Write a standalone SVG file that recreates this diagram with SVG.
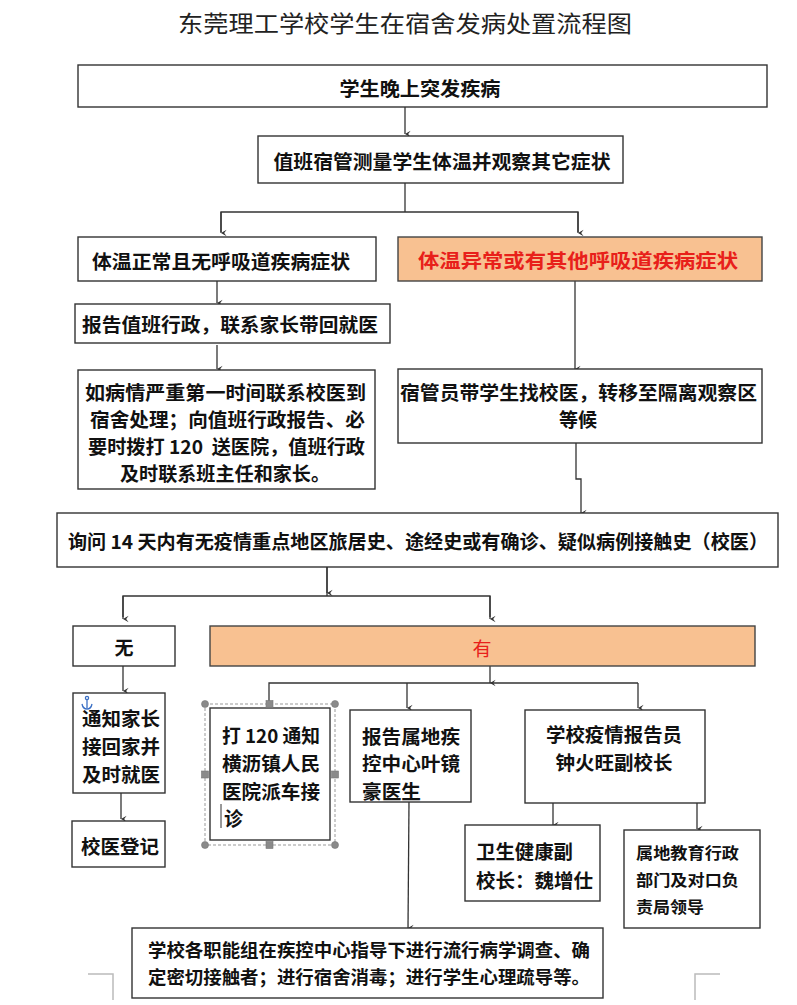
<svg xmlns="http://www.w3.org/2000/svg" width="797" height="1005" viewBox="0 0 797 1005">
<defs>
<marker id="ah" viewBox="0 0 10 10" refX="5" refY="9" markerWidth="8" markerHeight="8" markerUnits="userSpaceOnUse" orient="auto-start-reverse">
<path d="M1,2 L5,9 L9,2 L5,5 Z" fill="#333"/>
</marker>
<style>
.box{fill:#fff;stroke:#333;stroke-width:1.4}
.org{fill:#F8C191;stroke:#444;stroke-width:1.4}
.t{font-family:"Noto Sans CJK SC","Noto Sans",sans-serif;font-size:19px;font-weight:bold;fill:#111;dominant-baseline:central}
.c{text-anchor:middle}
.red{fill:#E8201A}
.ln{fill:none;stroke:#333;stroke-width:1.3}
.ar{fill:none;stroke:#333;stroke-width:1.3;marker-end:url(#ah)}
.mark{fill:none;stroke:#bbb;stroke-width:1.5}
.hd{fill:#8a8a8a;stroke:#777;stroke-width:0.6}
</style>
</defs>
<rect width="797" height="1005" fill="#fff"/>
<text x="405" y="22" text-anchor="middle" dominant-baseline="central" font-family="Noto Sans CJK SC,sans-serif" font-size="23" fill="#222" textLength="454" lengthAdjust="spacingAndGlyphs">东莞理工学校学生在宿舍发病处置流程图</text>

<g id="connectors">
<line class="ar" x1="405" y1="107" x2="405" y2="134"/>
<line class="ln" x1="405" y1="183" x2="405" y2="212"/>
<polyline class="ln" points="221,232 221,212 578,212 578,232"/>
<line class="ar" x1="221" y1="212" x2="221" y2="233"/>
<line class="ar" x1="578" y1="212" x2="578" y2="233"/>
<line class="ar" x1="217" y1="281" x2="217" y2="303"/>
<line class="ar" x1="217" y1="345" x2="217" y2="369"/>
<line class="ar" x1="575" y1="281" x2="575" y2="369"/>
<polyline class="ar" points="576,443 576,479 581,479 581,513"/>
<line class="ln" x1="327" y1="567" x2="327" y2="596"/>
<polyline class="ln" points="123,617 123,596 490,596 490,617"/>
<line class="ar" x1="327" y1="567" x2="327" y2="593"/>
<line class="ar" x1="123" y1="596" x2="123" y2="619"/>
<line class="ar" x1="490" y1="596" x2="490" y2="619"/>
<line class="ar" x1="123" y1="666" x2="123" y2="691"/>
<line class="ar" x1="121" y1="793" x2="121" y2="819"/>
<line class="ar" x1="490" y1="666" x2="490" y2="683"/>
<polyline class="ln" points="269,704 269,683 638,683"/>
<line class="ar" x1="407" y1="683" x2="407" y2="708"/>
<line class="ar" x1="638" y1="683" x2="638" y2="708"/>
<line class="ar" x1="409" y1="802" x2="408" y2="928"/>
<line class="ar" x1="553" y1="803" x2="553" y2="825"/>
<line class="ar" x1="697" y1="803" x2="697" y2="829"/>
</g>

<g id="n1"><rect class="box" x="78" y="65" width="689" height="42"/>
<text class="t c" x="420" y="87" textLength="161" lengthAdjust="spacingAndGlyphs">学生晚上突发疾病</text></g>

<g id="n2"><rect class="box" x="258" y="136" width="365" height="47"/>
<text class="t c" x="442" y="160" textLength="337" lengthAdjust="spacingAndGlyphs">值班宿管测量学生体温并观察其它症状</text></g>

<g id="n3"><rect class="box" x="78" y="237" width="298" height="44"/>
<text class="t" x="92" y="260" textLength="258" lengthAdjust="spacingAndGlyphs">体温正常且无呼吸道疾病症状</text></g>

<g id="n4"><rect class="org" x="398" y="237" width="364" height="44"/>
<text class="t c red" x="578" y="259" textLength="320" lengthAdjust="spacingAndGlyphs">体温异常或有其他呼吸道疾病症状</text></g>

<g id="n5"><rect class="box" x="75" y="304" width="315" height="39"/>
<text class="t" x="82" y="323" textLength="296" lengthAdjust="spacingAndGlyphs">报告值班行政，联系家长带回就医</text></g>

<g id="n6"><rect class="box" x="78" y="370" width="297" height="119"/>
<text class="t" x="85" y="391" textLength="281" lengthAdjust="spacingAndGlyphs">如病情严重第一时间联系校医到</text>
<text class="t" x="90" y="418" textLength="275" lengthAdjust="spacingAndGlyphs">宿舍处理；向值班行政报告、必</text>
<text class="t" x="88" y="445" textLength="277" lengthAdjust="spacingAndGlyphs">要时拨打 120&#160; 送医院，值班行政</text>
<text class="t" x="120" y="472" textLength="210" lengthAdjust="spacingAndGlyphs">及时联系班主任和家长。</text></g>

<g id="n7"><rect class="box" x="398" y="369" width="364" height="74"/>
<text class="t" x="400" y="391" textLength="357" lengthAdjust="spacingAndGlyphs">宿管员带学生找校医，转移至隔离观察区</text>
<text class="t c" x="578" y="418">等候</text></g>

<g id="n8"><rect class="box" x="57" y="513" width="721" height="54"/>
<text class="t" x="68" y="540" textLength="700" lengthAdjust="spacingAndGlyphs">询问 14 天内有无疫情重点地区旅居史、途经史或有确诊、疑似病例接触史（校医）</text></g>

<g id="n9"><rect class="box" x="73" y="626" width="102" height="40"/>
<text class="t c" x="124" y="646">无</text></g>

<g id="n10"><rect class="org" x="210" y="626" width="545" height="40"/>
<text class="t c red" x="482" y="647" style="font-weight:normal">有</text></g>

<g id="n11"><rect class="box" x="73" y="693" width="92" height="100"/>
<text class="t" x="82" y="717" textLength="78" lengthAdjust="spacingAndGlyphs">通知家长</text>
<text class="t" x="82" y="745" textLength="78" lengthAdjust="spacingAndGlyphs">接回家并</text>
<text class="t" x="82" y="773" textLength="78" lengthAdjust="spacingAndGlyphs">及时就医</text>
<g fill="none" stroke="#3a6fc4" stroke-width="1.3"><circle cx="87" cy="698" r="1.6"/><line x1="87" y1="700" x2="87" y2="708"/><path d="M82,704 Q83,709 87,709 Q91,709 92,704"/></g></g>

<g id="n12"><rect class="box" x="72" y="821" width="93" height="46"/>
<text class="t" x="81" y="845" textLength="78" lengthAdjust="spacingAndGlyphs">校医登记</text></g>

<g id="n13"><rect class="box" x="210" y="708" width="120" height="132"/>
<text class="t" x="222" y="734" textLength="98" lengthAdjust="spacingAndGlyphs">打 120 通知</text>
<text class="t" x="222" y="762" textLength="98" lengthAdjust="spacingAndGlyphs">横沥镇人民</text>
<text class="t" x="222" y="790" textLength="98" lengthAdjust="spacingAndGlyphs">医院派车接</text>
<text class="t" x="224" y="817">诊</text>
<line x1="221" y1="804" x2="221" y2="828" stroke="#333" stroke-width="1"/>
<rect x="205" y="704" width="130" height="141" fill="none" stroke="#999" stroke-width="1" stroke-dasharray="3,2"/>
<circle class="hd" cx="205" cy="704" r="3.5"/><circle class="hd" cx="335" cy="704" r="3.5"/>
<circle class="hd" cx="205" cy="845" r="3.5"/><circle class="hd" cx="335" cy="845" r="3.5"/>
<rect class="hd" x="266" y="700.5" width="7" height="7"/><rect class="hd" x="266" y="841.5" width="7" height="7"/>
<rect class="hd" x="201.5" y="771" width="7" height="7"/><rect class="hd" x="331.5" y="771" width="7" height="7"/></g>

<g id="n14"><rect class="box" x="350" y="710" width="121" height="92"/>
<text class="t" x="362" y="735" textLength="98" lengthAdjust="spacingAndGlyphs">报告属地疾</text>
<text class="t" x="362" y="762" textLength="98" lengthAdjust="spacingAndGlyphs">控中心叶镜</text>
<text class="t" x="362" y="790" textLength="59" lengthAdjust="spacingAndGlyphs">豪医生</text></g>

<g id="n15"><rect class="box" x="525" y="710" width="180" height="93"/>
<text class="t c" x="614" y="733" textLength="136" lengthAdjust="spacingAndGlyphs">学校疫情报告员</text>
<text class="t c" x="614" y="761" textLength="117" lengthAdjust="spacingAndGlyphs">钟火旺副校长</text></g>

<g id="n16"><rect class="box" x="465" y="825" width="135" height="76"/>
<text class="t" x="476" y="850" textLength="97" lengthAdjust="spacingAndGlyphs">卫生健康副</text>
<text class="t" x="476" y="879" textLength="117" lengthAdjust="spacingAndGlyphs">校长：魏增仕</text></g>

<g id="n17"><rect class="box" x="624" y="830" width="136" height="98"/>
<text class="t" x="636" y="852" style="font-size:16px" textLength="103" lengthAdjust="spacingAndGlyphs">属地教育行政</text>
<text class="t" x="636" y="879" style="font-size:16px" textLength="103" lengthAdjust="spacingAndGlyphs">部门及对口负</text>
<text class="t" x="636" y="906" style="font-size:16px" textLength="68" lengthAdjust="spacingAndGlyphs">责局领导</text></g>

<g id="n18"><rect class="box" x="132" y="928" width="471" height="70"/>
<text class="t" x="148" y="949" style="font-size:18px" textLength="442" lengthAdjust="spacingAndGlyphs">学校各职能组在疾控中心指导下进行流行病学调查、确</text>
<text class="t" x="148" y="976" style="font-size:18px" textLength="442" lengthAdjust="spacingAndGlyphs">定密切接触者；进行宿舍消毒；进行学生心理疏导等。</text></g>

<polyline class="mark" points="88,974 113,974 113,1000"/>
<polyline class="mark" points="720,974 695,974 695,1000"/>
</svg>
